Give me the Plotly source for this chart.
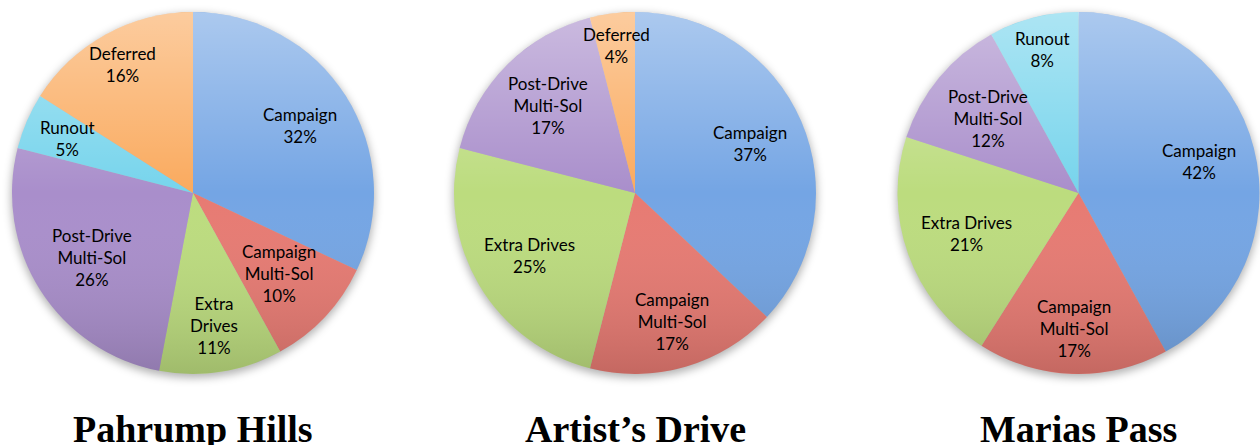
import math
import base64
import plotly.graph_objects as go

W, H = 1260, 445

# ---- data -------------------------------------------------------------
categories = ["Campaign", "Campaign Multi-Sol", "Extra Drives",
              "Post-Drive Multi-Sol", "Runout", "Deferred"]
sites = ["Pahrump Hills", "Artist’s Drive", "Marias Pass"]

pahrump_values = [32, 10, 11, 26, 5, 16]
artists_values = [37, 17, 25, 17, 0, 4]
marias_values = [42, 17, 21, 12, 8, 0]

pahrump_text = ["Campaign", "Campaign<br>Multi-Sol", "Extra<br>Drives",
                "Post-Drive<br>Multi-Sol", "Runout", "Deferred"]
artists_text = ["Campaign", "Campaign<br>Multi-Sol", "Extra Drives",
                "Post-Drive<br>Multi-Sol", "Runout", "Deferred"]
marias_text = ["Campaign", "Campaign<br>Multi-Sol", "Extra Drives",
               "Post-Drive<br>Multi-Sol", "Runout", "Deferred"]

# ---- styling ----------------------------------------------------------
colors = {
    "Campaign": "#74a5e4",
    "Campaign Multi-Sol": "#e77a72",
    "Extra Drives": "#bcdc7e",
    "Post-Drive Multi-Sol": "#a98ecb",
    "Runout": "#76d4ec",
    "Deferred": "#faaa5e",
}

# pixel layout of each pie (centre x, centre y, radius)
pie_cx = [193, 635, 1078.5]
pie_cy = 193
pie_r = 181

# radial position of each slice label, as a fraction of the radius
pahrump_label_r = [0.70, 0.65, 0.74, 0.66, 0.76, 0.81]
artists_label_r = [0.69, 0.74, 0.68, 0.68, 0.70, 0.82]
marias_label_r = [0.69, 0.75, 0.66, 0.65, 0.82, 0.70]

pies = [
    (pahrump_values, pahrump_text, pahrump_label_r),
    (artists_values, artists_text, artists_label_r),
    (marias_values, marias_text, marias_label_r),
]


def svg_uri(svg):
    return "data:image/svg+xml;base64," + base64.b64encode(svg.encode()).decode()


fig = go.Figure()
annotations = []
images = []

for (values, texts, label_r), cx, site in zip(pies, pie_cx, sites):
    keep = [i for i, v in enumerate(values) if v > 0]
    labs = [categories[i] for i in keep]
    vals = [values[i] for i in keep]
    fig.add_trace(go.Pie(
        labels=labs,
        values=vals,
        sort=False,
        direction="clockwise",
        rotation=0,
        textinfo="none",
        hoverinfo="label+percent",
        showlegend=False,
        marker=dict(colors=[colors[c] for c in labs], line=dict(width=0)),
        domain=dict(x=[(cx - pie_r) / W, (cx + pie_r) / W],
                    y=[1 - (pie_cy + pie_r) / H, 1 - (pie_cy - pie_r) / H]),
    ))

    # slice labels at each slice's mid angle
    total = sum(vals)
    cum = 0
    for i in keep:
        v = values[i]
        theta = 2 * math.pi * (cum + v / 2) / total
        cum += v
        f = label_r[i]
        px = cx + f * pie_r * math.sin(theta)
        py = pie_cy - f * pie_r * math.cos(theta)
        annotations.append(dict(
            x=px / W, y=1 - py / H, xref="paper", yref="paper",
            text=f"{texts[i]}<br>{v}%", showarrow=False,
            xanchor="center", yanchor="middle",
            font=dict(family="Lato", size=17, color="#000000"),
        ))

    # site title
    annotations.append(dict(
        x=cx / W, y=1 - 452 / H, xref="paper", yref="paper",
        text=f"<b>{site}</b>", showarrow=False,
        xanchor="center", yanchor="bottom",
        font=dict(family="Liberation Serif", size=38, color="#000000"),
    ))

    # soft drop shadow beneath the pie
    S = 2 * pie_r + 40
    shadow = (f'<svg xmlns="http://www.w3.org/2000/svg" width="{S}" height="{S}">'
              f'<defs><filter id="b" x="-20%" y="-20%" width="140%" height="140%">'
              f'<feGaussianBlur stdDeviation="4"/></filter></defs>'
              f'<circle cx="{S/2}" cy="{S/2 + 3}" r="{pie_r + 1}" fill="#000" '
              f'fill-opacity="0.3" filter="url(#b)"/></svg>')
    images.append(dict(
        source=svg_uri(shadow), xref="paper", yref="paper",
        x=(cx - S / 2) / W, y=1 - (pie_cy - S / 2) / H,
        sizex=S / W, sizey=S / H, sizing="stretch",
        xanchor="left", yanchor="top", layer="below",
    ))

    # light-to-dark vertical sheen over the pie
    D = 2 * pie_r
    sheen = (f'<svg xmlns="http://www.w3.org/2000/svg" width="{D}" height="{D}">'
             f'<defs><linearGradient id="g" x1="0" y1="0" x2="0" y2="1">'
             f'<stop offset="0" stop-color="#fff" stop-opacity="0.4"/>'
             f'<stop offset="0.5" stop-color="#fff" stop-opacity="0"/>'
             f'<stop offset="1" stop-color="#000" stop-opacity="0.15"/>'
             f'</linearGradient></defs>'
             f'<circle cx="{pie_r}" cy="{pie_r}" r="{pie_r}" fill="url(#g)"/></svg>')
    images.append(dict(
        source=svg_uri(sheen), xref="paper", yref="paper",
        x=(cx - pie_r) / W, y=1 - (pie_cy - pie_r) / H,
        sizex=D / W, sizey=D / H, sizing="stretch",
        xanchor="left", yanchor="top", layer="above",
    ))

fig.update_layout(
    width=W, height=H,
    margin=dict(l=0, r=0, t=0, b=0),
    paper_bgcolor="#ffffff",
    plot_bgcolor="#ffffff",
    annotations=annotations,
    images=images,
)

fig.write_html("out.html", config={"displayModeBar": False})
